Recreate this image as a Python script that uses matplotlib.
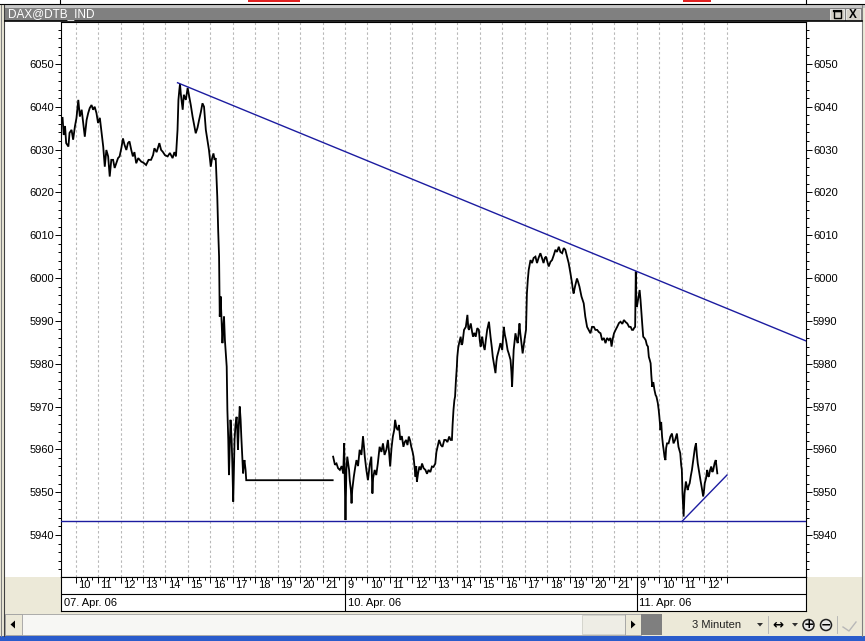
import matplotlib
matplotlib.use("Agg")
import matplotlib.pyplot as plt
from matplotlib.patches import Rectangle, Polygon, Circle
from matplotlib.transforms import offset_copy
import numpy as np

W, H = 865, 641

# ------------------------------------------------------------------ data
title = "DAX@DTB_IND"
day_labels = ["07. Apr. 06", "10. Apr. 06", "11. Apr. 06"]
day_offsets = [0, 13, 26]          # trading-hour index of 09:00 of each day
hour_labels = [list(range(10, 22)), list(range(9, 22)), list(range(9, 13))]
interval_label = "3 Minuten"

d1_hours = [9.42, 9.47, 9.53, 9.58, 9.68, 9.73, 9.82, 9.89, 9.97, 10.04, 10.12, 10.19, 10.27,
            10.34, 10.41, 10.49, 10.56, 10.63, 10.71, 10.78, 10.85, 10.93, 11.00, 11.08, 11.15,
            11.23, 11.30, 11.37, 11.45, 11.52, 11.59, 11.67, 11.74, 11.81, 11.89, 11.96, 12.04,
            12.11, 12.18, 12.26, 12.33, 12.40, 12.48, 12.55, 12.62, 12.70, 12.79, 12.92, 13.03,
            13.14, 13.25, 13.36, 13.45, 13.51, 13.61, 13.73, 13.81, 13.88, 13.98, 14.10, 14.20,
            14.32, 14.40, 14.47, 14.54, 14.58, 14.62, 14.65, 14.69, 14.77, 14.82, 14.91, 14.99,
            15.06, 15.13, 15.21, 15.28, 15.35, 15.43, 15.50, 15.58, 15.65, 15.72, 15.80, 15.87,
            15.94, 16.02, 16.08, 16.14, 16.19, 16.24, 16.31, 16.35, 16.39, 16.41, 16.42, 16.46,
            16.50, 16.54, 16.57, 16.61, 16.65, 16.68, 16.73, 16.76, 16.80, 16.83, 16.87, 16.90,
            16.95, 16.98, 17.02, 17.05, 17.08, 17.12, 17.17, 17.20, 17.23, 17.27, 17.31, 17.35,
            17.38, 17.42, 17.46, 17.49, 17.52, 17.57, 17.60, 21.45]
d1_price = [6037.4, 6033.4, 6035.5, 6031.5, 6030.7, 6033.9, 6034.6, 6032.3, 6035.4, 6037.4,
            6041.6, 6037.7, 6039.3, 6036.2, 6033.0, 6036.9, 6038.5, 6039.7, 6040.4, 6039.3,
            6040.0, 6038.5, 6036.2, 6037.4, 6034.2, 6030.7, 6026.0, 6029.9, 6028.4, 6023.7,
            6027.6, 6027.6, 6025.7, 6026.8, 6028.0, 6028.4, 6030.4, 6032.6, 6031.1, 6029.9,
            6031.5, 6031.9, 6029.9, 6028.4, 6029.4, 6026.8, 6028.0, 6027.2, 6026.9, 6026.4,
            6027.6, 6027.6, 6028.7, 6030.3, 6029.4, 6031.5, 6029.9, 6029.5, 6028.7, 6028.4,
            6029.2, 6028.0, 6029.4, 6028.4, 6034.6, 6041.6, 6043.9, 6045.3, 6042.8, 6039.3,
            6042.8, 6041.6, 6044.4, 6042.4, 6040.4, 6037.7, 6035.8, 6033.8, 6035.1, 6036.9,
            6038.8, 6040.8, 6040.0, 6034.6, 6032.3, 6029.9, 6026.0, 6028.0, 6029.1, 6027.6,
            6028.0, 6019.0, 6011.2, 6005.0, 5994.9, 5991.0, 5995.7, 5990.2, 5984.8, 5987.9,
            5991.0, 5985.5, 5983.2, 5979.3, 5969.2, 5962.2, 5954.0, 5961.0, 5966.9, 5962.2,
            5956.7, 5947.8, 5955.2, 5962.2, 5965.7, 5967.6, 5964.5, 5959.9, 5965.7, 5970.0,
            5966.9, 5963.0, 5958.7, 5954.4, 5956.4, 5957.5, 5955.2, 5952.8, 5952.8]

d2_hours = [8.47, 8.55, 8.62, 8.69, 8.77, 8.85, 8.92, 8.96, 8.99, 9.02, 9.06, 9.10, 9.14, 9.18,
            9.21, 9.26, 9.29, 9.32, 9.39, 9.45, 9.51, 9.58, 9.65, 9.73, 9.80, 9.84, 9.88, 9.95,
            10.02, 10.10, 10.17, 10.22, 10.25, 10.32, 10.39, 10.46, 10.54, 10.62, 10.69, 10.76,
            10.84, 10.91, 10.96, 11.01, 11.07, 11.13, 11.19, 11.23, 11.29, 11.35, 11.40, 11.46,
            11.53, 11.60, 11.66, 11.72, 11.78, 11.84, 11.90, 11.95, 12.01, 12.05, 12.09, 12.14,
            12.17, 12.20, 12.25, 12.31, 12.37, 12.43, 12.50, 12.58, 12.65, 12.72, 12.80, 12.87,
            12.94, 13.02, 13.07, 13.12, 13.19, 13.27, 13.34, 13.42, 13.49, 13.56, 13.64, 13.70,
            13.76, 13.79, 13.83, 13.87, 13.90, 13.94, 13.98, 14.00, 14.04, 14.08, 14.15, 14.19,
            14.23, 14.30, 14.38, 14.45, 14.49, 14.52, 14.60, 14.66, 14.70, 14.76, 14.82, 14.89,
            14.96, 15.00, 15.04, 15.08, 15.11, 15.16, 15.22, 15.27, 15.33, 15.41, 15.48, 15.54,
            15.58, 15.64, 15.70, 15.74, 15.77, 15.85, 15.92, 16.00, 16.07, 16.12, 16.17, 16.24,
            16.29, 16.37, 16.41, 16.44, 16.47, 16.51, 16.59, 16.65, 16.69, 16.77, 16.80, 16.84,
            16.91, 16.99, 17.06, 17.10, 17.14, 17.18, 17.26, 17.33, 17.40, 17.48, 17.55, 17.62,
            17.70, 17.77, 17.84, 17.90, 17.95, 18.01, 18.07, 18.15, 18.22, 18.30, 18.37, 18.44,
            18.52, 18.59, 18.67, 18.74, 18.81, 18.89, 18.96, 19.04, 19.11, 19.15, 19.18, 19.25,
            19.33, 19.38, 19.44, 19.53, 19.58, 19.63, 19.70, 19.78, 19.85, 19.93, 20.00, 20.08,
            20.15, 20.23, 20.30, 20.38, 20.45, 20.53, 20.60, 20.67, 20.75, 20.82, 20.87, 20.93,
            20.98, 21.05, 21.12, 21.20, 21.27, 21.35, 21.42, 21.50, 21.57, 21.65, 21.72, 21.78,
            21.83, 21.87, 21.92, 21.95, 21.97, 22.00]
d2_price = [5958.3, 5956.4, 5956.7, 5955.6, 5955.2, 5956.1, 5954.4, 5961.4, 5952.8, 5943.5,
            5955.2, 5958.3, 5956.7, 5955.2, 5952.8, 5950.5, 5947.4, 5950.5, 5953.6, 5955.7,
            5957.5, 5956.1, 5959.9, 5958.7, 5963.0, 5960.8, 5958.3, 5955.2, 5952.8, 5956.4,
            5958.3, 5949.7, 5953.3, 5955.2, 5954.0, 5956.7, 5960.6, 5959.4, 5961.4, 5958.7,
            5959.9, 5962.2, 5959.4, 5956.0, 5960.3, 5963.0, 5964.5, 5966.9, 5965.0, 5964.5,
            5965.7, 5962.2, 5963.1, 5960.6, 5961.7, 5962.2, 5961.0, 5963.0, 5962.0, 5960.6,
            5959.4, 5958.3, 5956.1, 5953.6, 5956.1, 5952.4, 5954.3, 5956.0, 5955.2, 5956.7,
            5955.6, 5955.2, 5954.3, 5955.2, 5954.7, 5956.0, 5955.9, 5956.7, 5959.4, 5960.6,
            5962.2, 5961.0, 5960.6, 5962.2, 5962.2, 5961.7, 5963.0, 5962.2, 5962.2, 5965.7,
            5969.2, 5971.5, 5972.3, 5976.2, 5979.3, 5981.6, 5983.7, 5984.8, 5986.3, 5984.4,
            5984.8, 5987.9, 5988.6, 5991.4, 5988.3, 5987.9, 5989.4, 5987.4, 5986.3, 5987.2,
            5986.3, 5988.3, 5987.9, 5985.5, 5984.0, 5985.5, 5986.3, 5984.4, 5983.2, 5985.5,
            5987.9, 5989.8, 5986.3, 5983.7, 5981.6, 5979.7, 5977.8, 5980.4, 5981.6, 5983.2,
            5984.8, 5983.2, 5988.6, 5986.7, 5985.5, 5983.2, 5982.4, 5980.9, 5978.1, 5974.6,
            5978.5, 5983.2, 5987.1, 5985.5, 5984.8, 5989.4, 5987.4, 5985.5, 5982.4, 5985.5,
            5987.9, 5996.4, 5999.6, 6001.9, 6004.2, 6003.5, 6004.7, 6005.0, 6003.5, 6004.7,
            6005.8, 6004.7, 6003.5, 6004.7, 6005.0, 6003.8, 6002.7, 6003.8, 6004.2, 6005.4,
            6006.6, 6006.1, 6007.3, 6006.1, 6005.8, 6007.0, 6006.6, 6005.0, 6003.5, 6001.1,
            5998.8, 5997.2, 5996.4, 5998.2, 5999.9, 5999.1, 5998.0, 5995.7, 5994.9, 5994.1,
            5991.0, 5988.6, 5987.9, 5987.1, 5988.6, 5988.6, 5987.9, 5987.9, 5987.4, 5987.1,
            5985.5, 5986.0, 5984.8, 5986.0, 5985.5, 5986.0, 5984.0, 5986.0, 5987.1, 5987.9,
            5988.6, 5989.5, 5989.8, 5989.3, 5990.2, 5989.7, 5989.4, 5988.6, 5988.6, 5987.9,
            5987.9, 5988.3, 5988.6, 6001.5, 5994.9, 5993.3]

d3_hours = [9.12, 9.16, 9.20, 9.24, 9.28, 9.33, 9.39, 9.44, 9.49, 9.53, 9.57, 9.61, 9.64, 9.68,
            9.73, 9.78, 9.83, 9.87, 9.93, 9.97, 10.00, 10.03, 10.05, 10.08, 10.12, 10.16, 10.19,
            10.23, 10.27, 10.30, 10.34, 10.41, 10.49, 10.56, 10.63, 10.70, 10.78, 10.85, 10.93,
            10.97, 11.00, 11.03, 11.08, 11.12, 11.15, 11.18, 11.26, 11.30, 11.35, 11.40, 11.45,
            11.53, 11.58, 11.63, 11.67, 11.71, 11.77, 11.83, 11.89, 11.95, 11.99, 12.02, 12.08,
            12.13, 12.17, 12.20, 12.26, 12.31, 12.36, 12.40, 12.46, 12.51, 12.58]
d3_price = [5997.2, 5994.9, 5991.8, 5989.0, 5986.3, 5986.0, 5985.5, 5984.4, 5984.0, 5981.6,
            5980.9, 5980.1, 5977.4, 5974.6, 5975.7, 5973.9, 5972.7, 5972.3, 5970.8, 5969.2,
            5967.6, 5965.7, 5964.5, 5966.4, 5963.0, 5961.0, 5959.9, 5958.2, 5957.5, 5960.3,
            5961.4, 5961.4, 5963.0, 5963.7, 5961.4, 5962.2, 5963.7, 5960.6, 5959.1, 5956.4,
            5955.2, 5949.7, 5944.3, 5949.7, 5951.0, 5952.5, 5950.5, 5951.4, 5952.1, 5953.8,
            5955.2, 5958.3, 5960.3, 5961.4, 5958.7, 5956.7, 5954.7, 5952.8, 5951.0, 5949.0,
            5950.5, 5952.1, 5953.3, 5955.2, 5953.8, 5953.6, 5955.2, 5956.0, 5954.7, 5955.2,
            5956.8, 5957.5, 5954.4]

# trend lines (trading-hour index, price)
resist_idx = [5.54, 25.97]
resist_price = [6045.6, 6001.6]
support_price = 5943.2
rise_idx = [28.01, 30.01]
rise_price = [5943.2, 5954.0]

y_major = list(range(5940, 6051, 10))
x_limits = (0.35, 33.53)
y_limits = (5930.2, 6059.9)

# ------------------------------------------------------------------ helpers
def to_idx(hours, day):
    return [day_offsets[day] + (h - 9) for h in hours]

FONT = ["Liberation Sans", "DejaVu Sans"]
plt.rcParams["font.family"] = FONT

def frac(x0, y0, x1, y1):
    return [x0 / W, 1 - y1 / H, (x1 - x0) / W, (y1 - y0) / H]

fig = plt.figure(figsize=(W / 100, H / 100), dpi=100)
fig.patch.set_facecolor("#ECE9D8")

# window chrome (pixel coordinates)
bg = fig.add_axes([0, 0, 1, 1], zorder=0)
bg.set_xlim(0, W); bg.set_ylim(H, 0); bg.axis("off")
bg.add_patch(Rectangle((0, 0), W, 7.5, fc="white", ec="none"))
bg.plot([0, W], [3.5, 3.5], color="black", lw=0.8)
bg.plot([60, 60], [0, 3.5], color="black", lw=0.8)
bg.plot([806, 806], [0, 3.5], color="black", lw=0.8)
bg.add_patch(Rectangle((248, 0), 52, 1.6, fc="#e02020", ec="none"))
bg.add_patch(Rectangle((683, 0), 28, 1.6, fc="#e02020", ec="none"))
bg.add_patch(Rectangle((0, 5), W, 2.5, fc="#c8c8c8", ec="none"))
bg.add_patch(Rectangle((0, 5), 5, 631, fc="#ECE9D8", ec="none"))
bg.plot([1, 1], [5, 636], color="#808080", lw=0.8)
bg.plot([4, 4], [5, 636], color="#404040", lw=0.8)
bg.plot([862, 862], [5, 636], color="#808080", lw=0.8)
# title bar
bg.add_patch(Rectangle((5, 7.5), 857, 13.5, fc="#808080", ec="none"))
bg.text(8, 14.5, title, color="white", fontsize=8.5, va="center", ha="left")
for bx0 in (830, 846):
    bg.add_patch(Rectangle((bx0, 8.5), 14, 11.5, fc="#D4D0C8", ec="#f0f0f0", lw=0.6))
bg.add_patch(Rectangle((833.5, 10.5), 7, 7, fc="none", ec="black", lw=1.0))
bg.plot([833.5, 840.5], [11.2, 11.2], color="black", lw=1.6)
bg.text(853, 14.5, "X", fontsize=8.5, fontweight="bold", ha="center", va="center")
# chart panel
bg.add_patch(Rectangle((5, 21), 857, 556, fc="white", ec="none"))
bg.plot([5, 862], [21.3, 21.3], color="black", lw=1.2)
# scrollbar / toolbar
bg.add_patch(Rectangle((5, 614), 620, 21, fc="#F7F7F4", ec="#a0a0a0", lw=0.6))
bg.add_patch(Rectangle((5, 614), 17, 21, fc="#ECE9D8", ec="#a0a0a0", lw=0.6))
bg.add_patch(Polygon([[15, 620.5], [15, 628.5], [10.5, 624.5]], closed=True, fc="black"))
bg.add_patch(Rectangle((582, 615), 43, 19, fc="#EEEDE5", ec="#d0d0c8", lw=0.6))
bg.add_patch(Rectangle((625, 614), 16, 21, fc="#ECE9D8", ec="#a0a0a0", lw=0.6))
bg.add_patch(Polygon([[631, 620.5], [631, 628.5], [635.5, 624.5]], closed=True, fc="black"))
bg.add_patch(Rectangle((641, 614), 21, 21, fc="#7F7F7F", ec="none"))
bg.text(717, 625, interval_label, fontsize=8, ha="center", va="center", color="#202020")
bg.add_patch(Polygon([[757, 623], [763, 623], [760, 626.5]], closed=True, fc="#303030"))
bg.plot([768, 768], [616, 633], color="#b0b0b0", lw=0.6)
bg.text(778, 625, "\u2194", fontsize=9.5, ha="center", va="center", fontweight="bold",
        family="DejaVu Sans")
bg.add_patch(Polygon([[792, 623], [798, 623], [795, 626.5]], closed=True, fc="#303030"))
for cx, sym in ((808.5, "+"), (826, "\u2212")):
    bg.add_patch(Circle((cx, 625), 5.5, fc="#e8e8e8", ec="#202020", lw=1.1))
    bg.text(cx, 624.7, sym, fontsize=9, ha="center", va="center", fontweight="bold",
            family="DejaVu Sans")
bg.plot([837, 837], [616, 633], color="#b0b0b0", lw=0.6)
bg.plot([843, 849, 856], [627, 631, 622], color="#b8b8b8", lw=1.0)
bg.add_patch(Rectangle((0, 636), W, 5, fc="#2A5CCB", ec="none"))

# ------------------------------------------------------------------ price chart
ax = fig.add_axes(frac(61, 21.5, 806, 577), zorder=2)
ax.set_facecolor("white")
idx_all = to_idx(d1_hours, 0) + [np.nan] + to_idx(d2_hours, 1) + to_idx(d3_hours, 2)
price_all = d1_price + [np.nan] + d2_price + d3_price
ax.plot(idx_all, price_all, color="black", lw=1.3, zorder=3, solid_joinstyle="miter")

ax.set_xlim(*x_limits)
ax.set_ylim(*y_limits)

# trend lines
slope = (resist_price[1] - resist_price[0]) / (resist_idx[1] - resist_idx[0])
ax.plot([resist_idx[0], x_limits[1]],
        [resist_price[0], resist_price[0] + slope * (x_limits[1] - resist_idx[0])],
        color="#1c1ca0", lw=1.0, zorder=4, clip_on=True)
ax.axhline(support_price, color="#1c1ca0", lw=1.0, zorder=4)
ax.plot(rise_idx, rise_price, color="#1c1ca0", lw=1.0, zorder=4)

# hour grid
grid_idx = [day_offsets[d] + (h - 9) for d in range(3) for h in hour_labels[d]]
grid_idx = sorted(set(grid_idx + [day_offsets[1], day_offsets[2], grid_idx[-1] + 1]))
ax.set_xticks(grid_idx)
ax.tick_params(axis="x", length=0, labelbottom=False)
ax.grid(axis="x", color="#b8b8b8", lw=0.8, linestyle=(0, (2.2, 2.2)))

ax.set_yticks(y_major)
ax.set_yticks(np.arange(5932, 6060, 2), minor=True)
ax.tick_params(axis="y", which="both", left=True, right=True, labelleft=True,
               labelright=True, direction="out", width=0.7, labelsize=8, colors="black")
ax.tick_params(axis="y", which="major", length=4, pad=1)
ax.tick_params(axis="y", which="minor", length=2.2)
for s in ax.spines.values():
    s.set_color("black"); s.set_linewidth(0.8)

# ------------------------------------------------------------------ time band
bx = fig.add_axes(frac(61, 577, 806, 611), zorder=2)
bx.set_xlim(*x_limits); bx.set_ylim(0, 2)
bx.set_facecolor("white")
bx.set_yticks([])
bx.axhline(1, color="black", lw=0.8)
for d in (1, 2):
    bx.axvline(day_offsets[d], color="black", lw=0.8)
bx.set_xticks(grid_idx)
bx.set_xticks(np.arange(1, grid_idx[-1], 0.25), minor=True)
bx.tick_params(axis="x", which="both", top=True, bottom=False, direction="in",
               labeltop=False, labelbottom=False, width=0.7)
bx.tick_params(axis="x", which="major", length=4)
bx.tick_params(axis="x", which="minor", length=2)
for s in bx.spines.values():
    s.set_color("black"); s.set_linewidth(0.8)
tr = offset_copy(bx.transData, fig=fig, x=2.5, y=0, units="dots")
for d in range(3):
    for h in hour_labels[d]:
        bx.text(day_offsets[d] + h - 9, 1.5, str(h), transform=tr, fontsize=8,
                ha="left", va="center")
    bx.text(max(day_offsets[d], x_limits[0]), 0.5, day_labels[d], transform=tr,
            fontsize=8, ha="left", va="center")

fig.savefig("out.png", dpi=100, facecolor=fig.get_facecolor())
